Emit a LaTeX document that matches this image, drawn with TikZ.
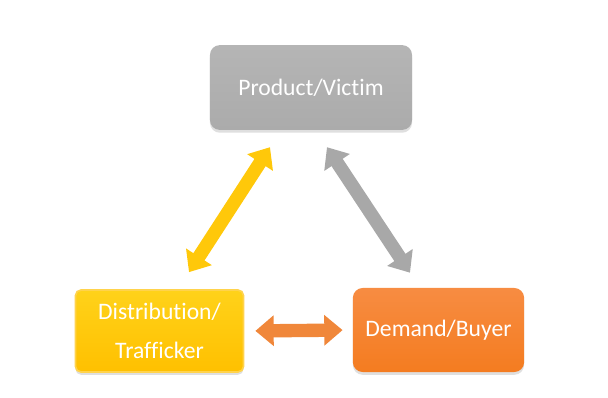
\documentclass[tikz,border=0pt]{standalone}
\usepackage{fontspec}
\setmainfont[Ligatures=NoCommon]{Carlito}
\usepackage{tikz}
\usetikzlibrary{arrows.meta, calc, shadows}
\definecolor{boxgray}{HTML}{ABABAB}
\definecolor{boxgraytop}{HTML}{B5B5B5}
\definecolor{boxyellow}{HTML}{FFC000}
\definecolor{boxyellowtop}{HTML}{FFD21A}
\definecolor{boxorange}{HTML}{F47C20}
\definecolor{boxorangetop}{HTML}{F78C42}
\definecolor{arrowyellow}{HTML}{FFC80A}
\definecolor{arrowgray}{HTML}{A8A8A8}
\definecolor{arroworange}{HTML}{F0873A}

\begin{document}
\begin{tikzpicture}[
  x=0.025cm, y=-0.025cm,
  box/.style={rounded corners=7pt, text=white, align=center,
    font=\fontsize{16.8}{27.5}\selectfont, inner sep=0pt,
    drop shadow={opacity=0.25, shadow xshift=0pt, shadow yshift=-2pt}},
  link/.style={line width=9.5pt,
    {Triangle[length=13pt, width=21pt]}-{Triangle[length=13pt, width=21pt]}}
]
\useasboundingbox (0,0) rectangle (608,397);

\node[box, top color=boxgraytop, bottom color=boxgray,
  minimum width=5.05cm, minimum height=2.12cm] (prod) at (311,87.5) {Product/Victim};
\node[box, rounded corners=4pt, top color=boxyellowtop, bottom color=boxyellow,
  draw=boxyellow!70!white, line width=1.2pt,
  minimum width=4.2cm, minimum height=2.05cm] (dist) at (159.5,331) {Distribution/\\Trafficker};
\node[box, top color=boxorangetop, bottom color=boxorange,
  minimum width=4.28cm, minimum height=2.1cm] (dem) at (438.5,330) {Demand/Buyer};

% connectors
\draw[link, arrowyellow] ($(dist.north)+(29.5,-17)$) -- ($(prod.south)+(-41,17)$);
\draw[link, arrowgray] ($(dem.north)+(-28.5,-15)$) -- ($(prod.south)+(16,17)$);
\draw[link, arroworange, shorten <=0.275cm, shorten >=0.25cm] (dist.east) -- (dem.west);
\end{tikzpicture}
\end{document}
